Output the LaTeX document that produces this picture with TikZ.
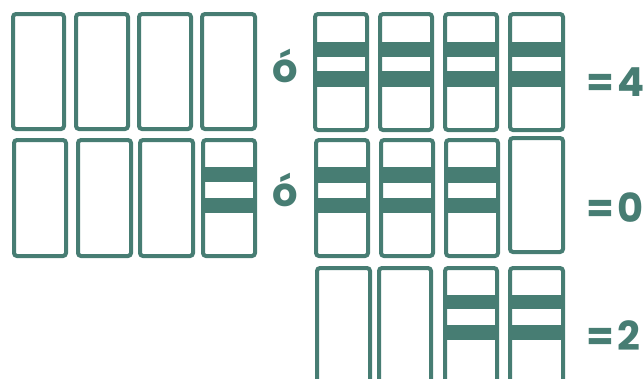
\documentclass[tikz,border=0pt]{standalone}
\usepackage{fontspec}
\setmainfont{Poppins}
\definecolor{tealc}{HTML}{477D73}
\begin{document}
\begin{tikzpicture}[x=1pt,y=-1pt,
  bar/.style={draw=tealc,line width=4pt,rounded corners=3pt,fill=white},
  band/.style={fill=tealc},
  lbl/.style={text=tealc,font=\bfseries\fontsize{40}{40}\selectfont,inner sep=0pt,anchor=base west}]
\useasboundingbox (0,0) rectangle (643,378);
% row 1 left
\draw[bar] (13,14) rectangle (64,129);
\draw[bar] (76,14) rectangle (128,129);
\draw[bar] (139,14) rectangle (191,129);
\draw[bar] (202,14) rectangle (255,129);
% row 1 right
\foreach \a/\b in {315/367,380/432,445/497,510/563}{
  \draw[bar] (\a,14) rectangle (\b,130);
  \fill[band] (\a,42) rectangle (\b,57);
  \fill[band] (\a,71) rectangle (\b,87);
}
% row 2 left
\draw[bar] (14,140) rectangle (66,256);
\draw[bar] (78,140) rectangle (131,256);
\draw[bar] (140,140) rectangle (193,256);
\draw[bar] (203,140) rectangle (255,256);
\fill[band] (203,167) rectangle (255,182);
\fill[band] (203,198) rectangle (255,213);
% row 2 right
\foreach \a/\b in {316/368,381/433,446/498}{
  \draw[bar] (\a,140) rectangle (\b,256);
  \fill[band] (\a,167) rectangle (\b,183);
  \fill[band] (\a,198) rectangle (\b,213);
}
\draw[bar] (510,138) rectangle (563,252);
% row 3
\draw[bar] (317,268) rectangle (370,400);
\draw[bar] (379,268) rectangle (431,400);
\foreach \a/\b in {445/497,510/563}{
  \draw[bar] (\a,268) rectangle (\b,400);
  \fill[band] (\a,295) rectangle (\b,309);
  \fill[band] (\a,325) rectangle (\b,340);
}
% labels
\node[lbl] (o1) at (272,82) {ó};
\node[lbl] (o2) at (272,206) {ó};
\node[lbl] (e1) at (586,96) {=};
\node[lbl] (d1) at (617,96) {4};
\node[lbl] (e2) at (586,222) {=};
\node[lbl] (d2) at (617,222) {0};
\node[lbl] (e3) at (586,350) {=};
\node[lbl] (d3) at (617,350) {2};
\end{tikzpicture}
\end{document}
